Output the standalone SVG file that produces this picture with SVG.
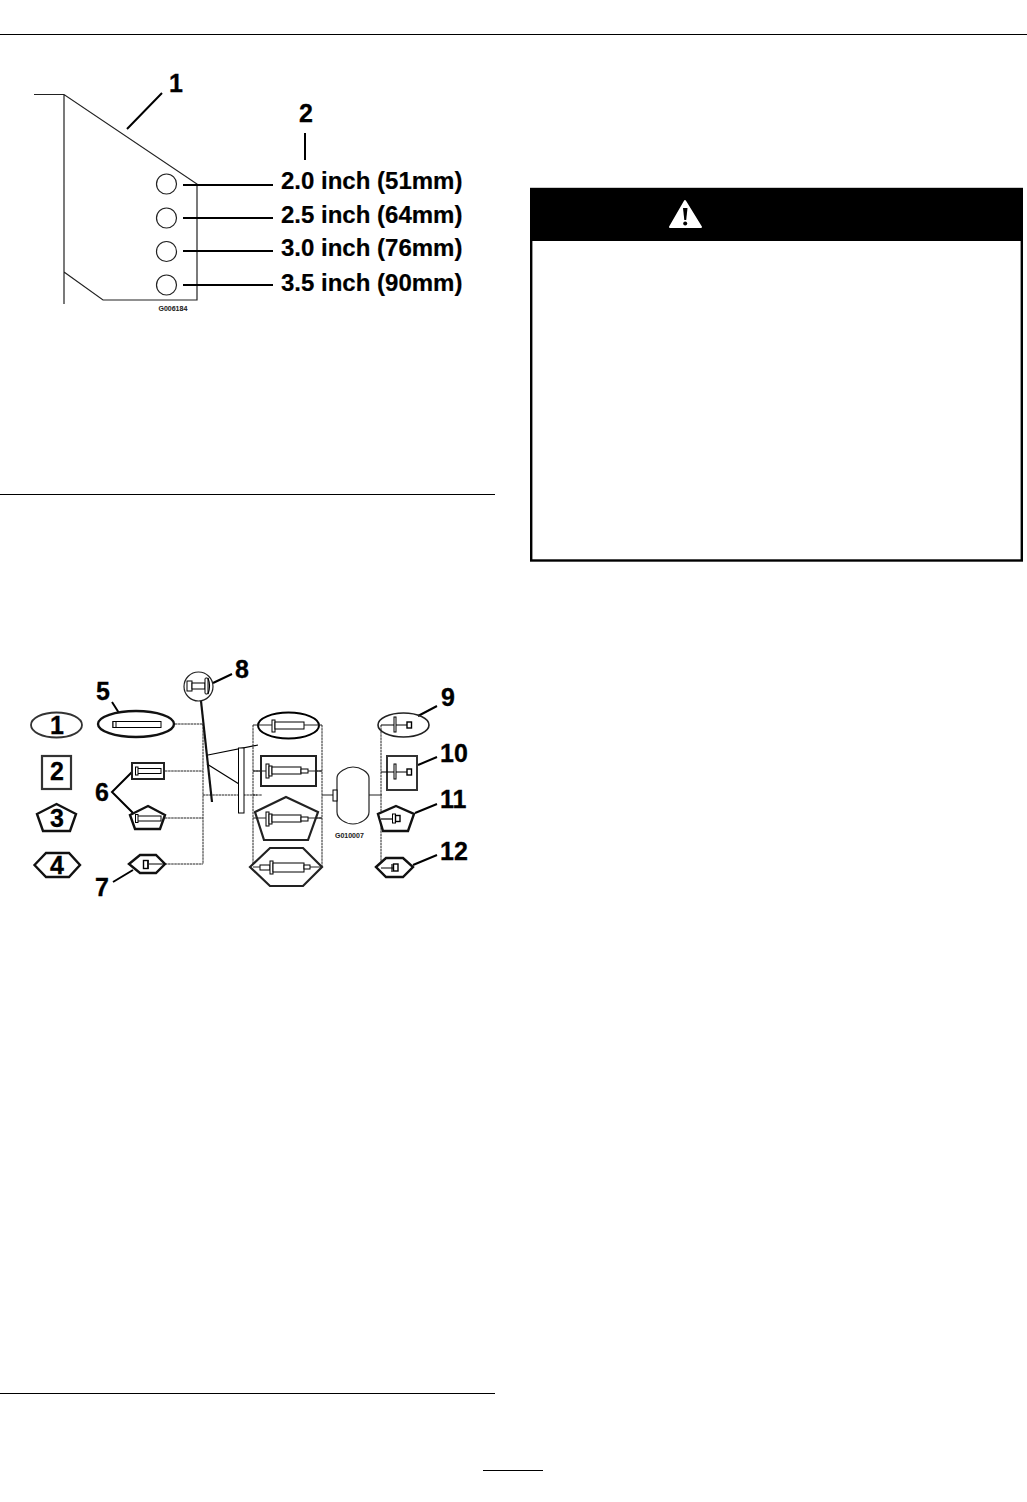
<svg xmlns="http://www.w3.org/2000/svg" width="1027" height="1502" viewBox="0 0 1027 1502">
<style>
text{font-family:"Liberation Sans",Arial,sans-serif;font-weight:700;fill:#000}
.n{font-size:25px;stroke:#000;stroke-width:.3}
.d{font-size:24px;stroke:#000;stroke-width:.2}
.c{font-size:7px;fill:#222;stroke:#222;stroke-width:.05}
.l{fill:none;stroke:#000;stroke-width:1.200}
.m{fill:none;stroke:#000;stroke-width:2}
.e{fill:none;stroke:#222;stroke-width:1.600}
.h{fill:#fff;stroke:#000;stroke-width:1}
.u{fill:#fff;stroke:#000;stroke-width:1.400}
.s{fill:#fff;stroke:#333;stroke-width:1.800}
.k{fill:#fff;stroke:#111;stroke-width:2.400}
.o{fill:none;stroke:#222;stroke-width:1.200}
.f{fill:none;stroke:#222;stroke-width:1}
.v{fill:none;stroke:#222;stroke-width:1;stroke-dasharray:2.500 .6}
</style>
<rect width="1027" height="1502" fill="#fff"/>
<g id="page-rules">
<path class="l" d="M0 34.500H1027M0 494.500H495M0 1393.500H495M483 1470.500H543"/>
</g>
<g id="plate">
<path class="o" d="M34 94.500H64L197 184V300H103L64 272M64 94.500V304"/>
<circle class="o" cx="166.500" cy="184" r="10"/>
<circle class="o" cx="166.500" cy="218" r="10"/>
<circle class="o" cx="166.500" cy="251.500" r="10"/>
<circle class="o" cx="166.500" cy="285" r="10"/>
<text x="158.500" y="311" class="c">G006184</text>
</g>
<g id="plate-connectors">
<path class="m" d="M127 129L162 93M183 185H273M183 218H273M183 251H273M183 285H273M305 133V160"/>
</g>
<g id="plate-labels">
<text x="169" y="92" class="n">1</text>
<text x="299" y="122" class="n">2</text>
<text x="281" y="189" class="d">2.0 inch (51mm)</text>
<text x="281" y="223" class="d">2.5 inch (64mm)</text>
<text x="281" y="256" class="d">3.0 inch (76mm)</text>
<text x="281" y="291" class="d">3.5 inch (90mm)</text>
</g>
<g id="warning">
<rect x="531.200" y="189" width="490.600" height="371.500" fill="#fff" stroke="#000" stroke-width="2.400"/>
<rect x="530" y="188" width="493" height="53" fill="#000"/>
<path d="M685 201L701 227H670Z" fill="#fff" stroke="#fff" stroke-width="2" stroke-linejoin="round"/>
<path d="M683 208H687.500L686.200 220H684.300Z" fill="#000"/>
<circle cx="685.200" cy="223.500" r="2" fill="#000"/>
</g>
<g id="legend-1"><ellipse class="s" cx="56.500" cy="725" rx="25.500" ry="12.500"/><text x="50" y="734" class="n">1</text></g>
<g id="legend-2"><rect x="42" y="756" width="29" height="33" fill="#fff" stroke="#333" stroke-width="2.200"/><text x="50" y="780" class="n">2</text></g>
<g id="legend-3"><path class="k" d="M56.500 804L76 814L70 831H43L37 814Z"/><text x="50" y="827" class="n">3</text></g>
<g id="legend-4"><path class="k" d="M34.500 865L46 853H69L80 865L69 877H46Z"/><text x="50" y="874" class="n">4</text></g>
<g id="connectors">
<path class="v" d="M175 724H203M165 771H203M165 818H203M165 864H203M203 724V864M203 795H257"/>
<path class="l" d="M208 755L258 745M207 764L239 784"/>
<path fill="none" stroke="#111" stroke-width="2.200" d="M201 701L212 802"/>
<path class="v" d="M253 725V868M322 725V868M381 725V868M253 795H262M253 771H262M316 771H322M316 818H322"/>
<path class="f" d="M322 795H337M369 795H382"/>
<path class="m" d="M112 702L119 713M133 771L112 792L133 813M113 882L133 870M213 683L232 674M418 716L437 706M418 765L437 757M415 813L437 804M413 865L437 855"/>
</g>
<g id="node-5"><ellipse class="k" cx="136" cy="724" rx="38" ry="13"/><rect class="h" x="113" y="721.500" width="48" height="6"/><rect class="h" x="113" y="721.500" width="3" height="6"/></g>
<g id="node-6a"><rect x="132" y="763" width="32" height="16" fill="#fff" stroke="#222" stroke-width="2"/><rect class="h" x="137" y="768.500" width="24" height="5"/><rect class="h" x="135.500" y="767" width="2.500" height="8"/></g>
<g id="node-6b"><path class="k" d="M148 806L165 815L160 829H135L130 815Z"/><rect class="h" x="137" y="816" width="24" height="5"/><rect class="h" x="135.500" y="814.500" width="2.500" height="8"/></g>
<g id="node-7"><path class="k" d="M129 864L140 855H156L165 864L156 873H140Z"/><rect class="u" x="143.500" y="860.500" width="4.500" height="8"/><path class="l" d="M148 860V869M149 864H165"/></g>
<g id="node-8"><circle cx="198.500" cy="686.500" r="14.500" fill="#fff" stroke="#222" stroke-width="1.200"/><rect class="h" x="187" y="681" width="5" height="10"/><rect class="h" x="192" y="683" width="13" height="6"/><rect class="h" x="205" y="678" width="3" height="16" rx="1"/><path class="l" d="M208 678Q211 686 208 694"/></g>
<g id="blade"><rect class="h" x="238.500" y="748" width="5.500" height="65"/></g>
<g id="node-center-1"><ellipse class="m" cx="288.500" cy="725.500" rx="30.500" ry="13"/><rect class="h" x="272" y="720" width="3" height="12"/><rect class="h" x="275" y="722" width="29" height="7"/><path class="f" d="M253 725H272M304 725H322"/></g>
<g id="node-center-2"><rect x="261" y="756" width="55" height="30" fill="#fff" stroke="#222" stroke-width="2"/><rect class="h" x="266" y="764" width="3" height="14"/><rect class="h" x="269" y="766" width="3" height="10"/><rect class="h" x="272" y="767" width="29" height="7"/><rect class="h" x="301" y="769" width="7" height="4"/><path class="f" d="M253 771H266M308 771H322"/></g>
<g id="node-center-3"><path fill="#fff" stroke="#222" stroke-width="2.200" d="M286 797L318 812L308 840H264L255 812Z"/><rect class="h" x="266" y="812" width="3" height="14"/><rect class="h" x="269" y="814" width="3" height="10"/><rect class="h" x="272" y="815" width="29" height="7"/><rect class="h" x="301" y="817" width="7" height="4"/><path class="f" d="M253 818H266M308 818H322"/></g>
<g id="node-center-4"><path fill="#fff" stroke="#222" stroke-width="2.200" d="M250 867L270 848H303L322 867L303 886H270Z"/><rect class="h" x="260" y="865" width="10" height="5"/><rect class="h" x="270" y="861" width="3" height="13"/><rect class="h" x="273" y="863" width="31" height="9"/><rect class="h" x="304" y="865" width="6" height="4"/><path class="f" d="M253 867H260M310 867H322"/></g>
<g id="drum"><path fill="#fff" stroke="#222" stroke-width="1.200" d="M337 778C337 772 347 767 353 767C360 767 369 772 369 778V812C369 819 360 824 353 824C346 824 337 819 337 812Z"/><rect class="h" x="333" y="790" width="4" height="11"/><text x="335" y="838" class="c">G010007</text></g>
<g id="node-9"><ellipse class="e" cx="403.500" cy="725" rx="25.500" ry="12"/><rect class="h" x="394" y="717" width="2" height="15"/><rect class="u" x="407" y="722" width="4.500" height="6"/><path class="l" d="M381 725H394M396 725H407"/></g>
<g id="node-10"><rect x="387" y="756" width="30" height="34" fill="#fff" stroke="#333" stroke-width="2"/><rect class="h" x="394" y="764" width="2" height="15"/><rect class="u" x="407" y="769" width="4.500" height="6"/><path class="l" d="M381 772H394M396 772H407"/></g>
<g id="node-11"><path class="k" d="M396 806L414 814L408 831H383L378 814Z"/><rect class="h" x="392.500" y="814" width="3" height="9"/><rect class="u" x="395.500" y="815.500" width="4.500" height="6"/><path class="l" d="M381 819H392"/></g>
<g id="node-12"><path class="k" d="M376 867L386 858H403L413 867L403 877H386Z"/><rect class="u" x="393.500" y="864" width="4.500" height="7"/><path class="l" d="M381 868H394M392 864V872"/></g>
<g id="labels">
<text x="235" y="678" class="n">8</text>
<text x="96" y="700" class="n">5</text>
<text x="95" y="801" class="n">6</text>
<text x="95" y="896" class="n">7</text>
<text x="441" y="706" class="n">9</text>
<text x="440" y="762" class="n">10</text>
<text x="440" y="808" class="n">11</text>
<text x="440" y="860" class="n">12</text>
</g>
</svg>
